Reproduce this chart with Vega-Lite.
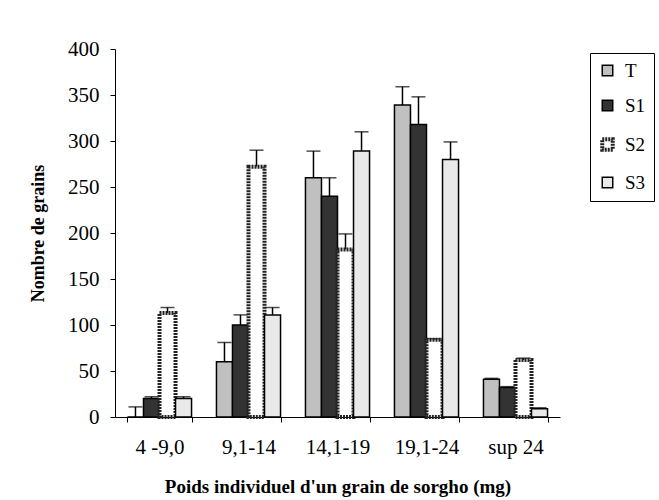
{
  "$schema": "https://vega.github.io/schema/vega-lite/v6.json",
  "autosize": {"type": "none"},
  "width": 445,
  "height": 368,
  "padding": {"left": 115, "top": 49, "right": 99, "bottom": 83},
  "background": "white",
  "config": {
    "view": {"stroke": null},
    "font": "Liberation Serif",
    "axis": {"grid": false, "domainColor": "black", "tickColor": "black", "labelColor": "black", "titleColor": "black", "labelFont": "Liberation Serif", "titleFont": "Liberation Serif", "labelFontSize": 21, "titleFontSize": 18, "titleFontWeight": "bold", "domainWidth": 1, "tickWidth": 1}
  },
  "data": {
    "values": [
      {"group": "4 -9,0", "series": "T", "value": 0, "hi": 11},
      {"group": "4 -9,0", "series": "S1", "value": 20, "hi": 22},
      {"group": "4 -9,0", "series": "S2", "value": 113, "hi": 119},
      {"group": "4 -9,0", "series": "S3", "value": 20, "hi": 22},
      {"group": "9,1-14", "series": "T", "value": 60, "hi": 81},
      {"group": "9,1-14", "series": "S1", "value": 100, "hi": 111},
      {"group": "9,1-14", "series": "S2", "value": 272, "hi": 290},
      {"group": "9,1-14", "series": "S3", "value": 111, "hi": 119},
      {"group": "14,1-19", "series": "T", "value": 260, "hi": 289},
      {"group": "14,1-19", "series": "S1", "value": 240, "hi": 260},
      {"group": "14,1-19", "series": "S2", "value": 182, "hi": 199},
      {"group": "14,1-19", "series": "S3", "value": 289, "hi": 310},
      {"group": "19,1-24", "series": "T", "value": 339, "hi": 359},
      {"group": "19,1-24", "series": "S1", "value": 318, "hi": 348},
      {"group": "19,1-24", "series": "S2", "value": 84, "hi": 85},
      {"group": "19,1-24", "series": "S3", "value": 280, "hi": 299},
      {"group": "sup 24", "series": "T", "value": 41, "hi": 42},
      {"group": "sup 24", "series": "S1", "value": 32, "hi": 33},
      {"group": "sup 24", "series": "S2", "value": 62, "hi": 64},
      {"group": "sup 24", "series": "S3", "value": 9, "hi": 10}
    ]
  },
  "encoding": {
    "x": {
      "field": "group", "type": "nominal", "sort": null,
      "scale": {"paddingInner": 0.28, "paddingOuter": 0.14},
      "axis": {"title": "Poids individuel d'un grain de sorgho (mg)", "labelAngle": 0, "tickBand": "extent", "tickSize": 5, "labelPadding": 14, "titlePadding": 20, "titleFontSize": 19}
    },
    "xOffset": {"field": "series", "type": "nominal", "sort": ["T", "S1", "S2", "S3"], "scale": {"paddingInner": 0, "paddingOuter": 0}}
  },
  "layer": [
    {
      "mark": {"type": "rule", "color": "black", "strokeWidth": 1.5},
      "encoding": {
        "y": {"field": "value", "type": "quantitative"},
        "y2": {"field": "hi"}
      }
    },
    {
      "mark": {"type": "tick", "orient": "horizontal", "color": "black", "size": 14, "thickness": 1.5},
      "encoding": {
        "y": {"field": "hi", "type": "quantitative"}
      }
    },
    {
      "mark": {"type": "bar"},
      "encoding": {
        "y": {
          "field": "value", "type": "quantitative",
          "scale": {"domain": [0, 400]},
          "axis": {"title": "Nombre de grains", "values": [0, 50, 100, 150, 200, 250, 300, 350, 400], "tickSize": 5, "labelPadding": 11, "titlePadding": 20}
        },
        "fill": {
          "field": "series", "type": "nominal", "sort": ["T", "S1", "S2", "S3"],
          "scale": {"domain": ["T", "S1", "S2", "S3"], "range": ["#c0c0c0", "#333333", "#ffffff", "#e9e9e9"]},
          "legend": {
            "title": null, "orient": "none", "legendX": 475, "legendY": 4,
            "symbolType": "square", "symbolSize": 110, "labelFont": "Liberation Serif", "labelFontSize": 19, "labelColor": "black",
            "rowPadding": 15, "padding": 8, "strokeColor": "black", "symbolOpacity": 1, "labelOffset": 8
          }
        },
        "stroke": {
          "field": "series", "type": "nominal",
          "scale": {"type": "ordinal", "domain": ["T", "S1", "S2", "S3"], "range": ["#000000", "#000000", "#222222", "#000000"]}
        },
        "strokeWidth": {
          "field": "series", "type": "nominal",
          "scale": {"type": "ordinal", "domain": ["T", "S1", "S2", "S3"], "range": [1.5, 1.5, 4, 1.5]}
        },
        "strokeDash": {
          "field": "series", "type": "nominal",
          "scale": {"type": "ordinal", "domain": ["T", "S1", "S2", "S3"], "range": [[1, 0], [1, 0], [2, 1], [1, 0]]}
        }
      }
    }
  ]
}
